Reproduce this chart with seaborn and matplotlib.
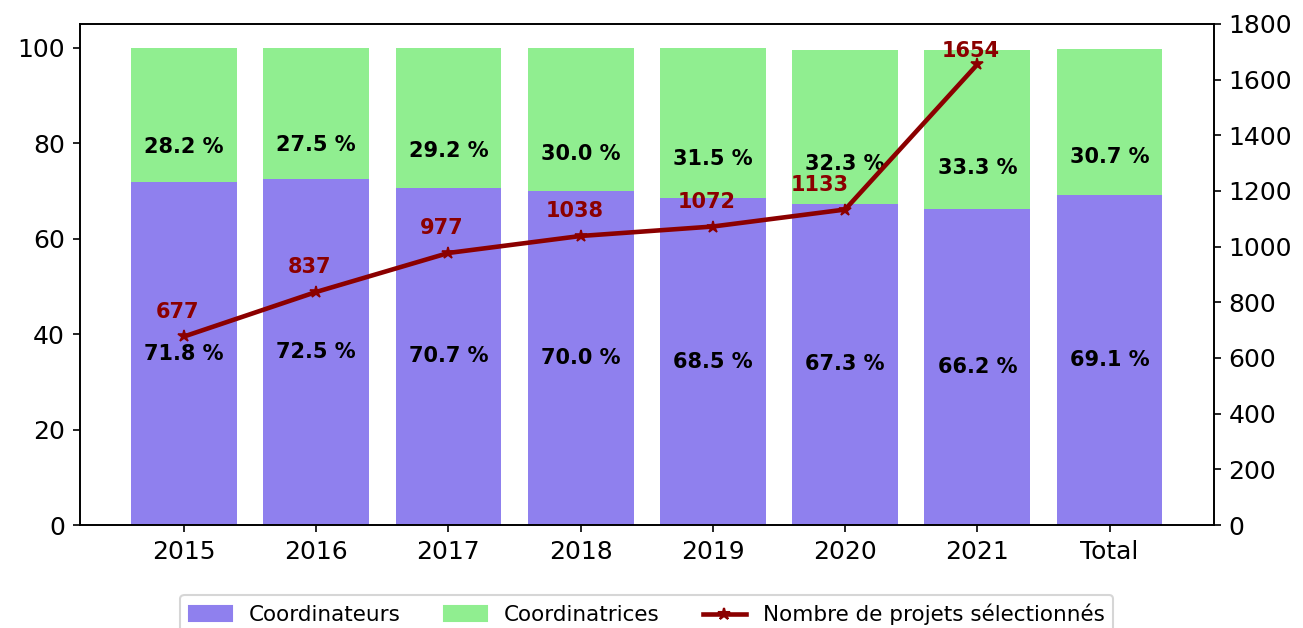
import numpy as np
import pandas as pd
import matplotlib
matplotlib.use("Agg")
import matplotlib.pyplot as plt
import seaborn as sns
from matplotlib.patches import Patch
from matplotlib.lines import Line2D

annees = ['2015', '2016', '2017', '2018', '2019', '2020', '2021', 'Total']
coordinateurs = [71.8, 72.5, 70.7, 70.0, 68.5, 67.3, 66.2, 69.1]
coordinatrices = [28.2, 27.5, 29.2, 30.0, 31.5, 32.3, 33.3, 30.7]
projets_annees = ['2015', '2016', '2017', '2018', '2019', '2020', '2021']
projets = [677, 837, 977, 1038, 1072, 1133, 1654]

violet = '#8F80EE'
vert = '#90EE90'

df = pd.DataFrame({'annee': annees, 'hommes': coordinateurs, 'femmes': coordinatrices})
df['total'] = df['hommes'] + df['femmes']

fig, ax = plt.subplots(figsize=(8.693, 4.187), dpi=150)
fig.subplots_adjust(left=0.061, right=0.931, top=0.962, bottom=0.164)

sns.barplot(data=df, x='annee', y='total', color=vert, saturation=1, ax=ax, width=0.8)
sns.barplot(data=df, x='annee', y='hommes', color=violet, saturation=1, ax=ax, width=0.8)

for i, (h, f) in enumerate(zip(coordinateurs, coordinatrices)):
    ax.text(i, h / 2, f'{h:.1f} %', ha='center', va='center', fontweight='bold', fontsize=10)
    ax.text(i, h + f * 0.26, f'{f:.1f} %', ha='center', va='center', fontweight='bold', fontsize=10)

ax.set_ylim(0, 105)
ax.set_xlabel('')
ax.set_ylabel('')
ax.tick_params(axis='both', labelsize=12)

ax2 = ax.twinx()
dl = pd.DataFrame({'x': np.arange(len(projets)), 'n': projets})
sns.lineplot(data=dl, x='x', y='n', color='darkred', linewidth=2.2, marker='*',
             markersize=6, markeredgewidth=0.8, markeredgecolor='darkred', ax=ax2)

# petits decalages des etiquettes (en points)
decalages = [(-3, 7), (-3, 7), (-3, 7), (-3, 7), (-3, 7), (-12, 7), (-3, 1.5)]
for i, n in enumerate(projets):
    ax2.annotate(str(n), (i, n), xytext=decalages[i], textcoords='offset points',
                 ha='center', va='bottom', color='darkred', fontweight='bold', fontsize=10)
ax2.set_ylim(0, 1800)
ax2.set_ylabel('')
ax2.tick_params(axis='y', labelsize=12)

handles = [Patch(color=violet, label='Coordinateurs'),
           Patch(color=vert, label='Coordinatrices'),
           Line2D([], [], color='darkred', linewidth=2.2, marker='*', markersize=6,
                  label='Nombre de projets sélectionnés')]
ax.legend(handles=handles, loc='upper center', bbox_to_anchor=(0.5, -0.14), ncol=3,
          fontsize=10.3, frameon=True, borderaxespad=0)

fig.savefig('out.png', dpi=150)
